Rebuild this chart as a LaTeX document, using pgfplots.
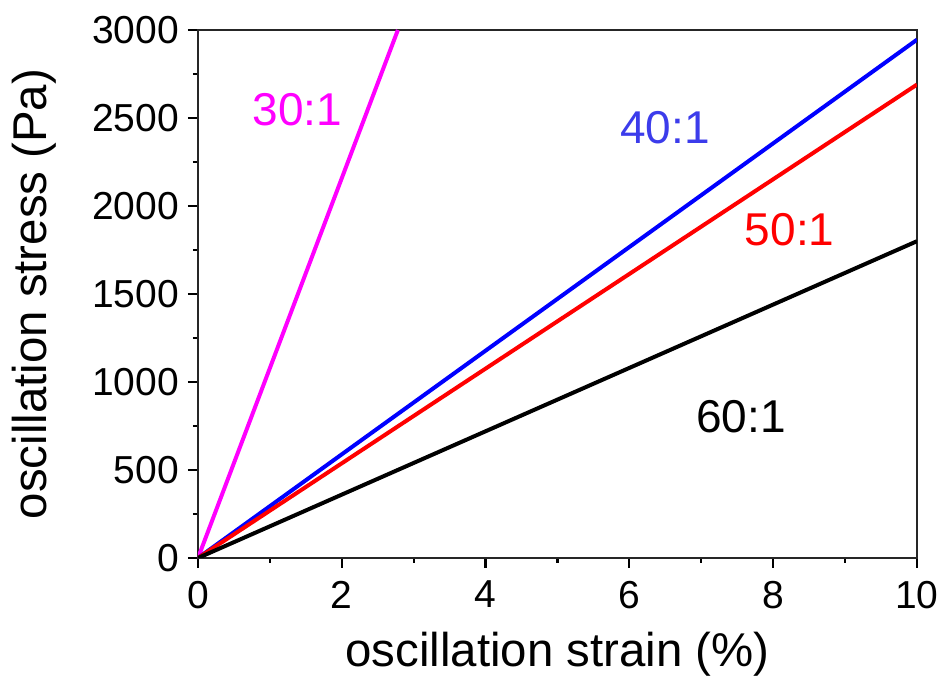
\documentclass[border=0pt]{standalone}
\usepackage{fontspec}
\setmainfont{Liberation Sans}
\usepackage{pgfplots}
\pgfplotsset{compat=1.18}
\definecolor{mag}{rgb}{1,0,1}
\definecolor{lblue}{RGB}{60,60,235}
\begin{document}
\begin{tikzpicture}
\path[use as bounding box] (-99pt,-63pt) rectangle (373pt,279pt);
\begin{axis}[
  at={(0,0)}, anchor=south west,
  scale only axis, width=359.5pt, height=264pt,
  xmin=0, xmax=10, ymin=0, ymax=3000,
  xtick={0,2,4,6,8,10}, ytick={0,500,1000,1500,2000,2500,3000},
  minor x tick num=1, minor y tick num=1,
  xtick pos=bottom, ytick pos=left, tick align=outside,
  major tick length=5pt, minor tick length=2.5pt,
  tick style={line width=1.1pt, black},
  axis line style={line width=1.3pt, black!85},
  /pgf/number format/assume math mode=true,
  /pgf/number format/1000 sep={},
  ticklabel style={font=\fontsize{19.5}{22}\selectfont},
  xticklabel style={yshift=-3pt},
  yticklabel style={xshift=-1pt},
  clip=true,
]
\addplot[mag, line width=2pt] coordinates {(0,0) (2.78,3000)};
\addplot[blue, line width=2pt] coordinates {(0,0) (10,2945)};
\addplot[red, line width=2pt] coordinates {(0,0) (10,2690)};
\addplot[black, line width=2pt] coordinates {(0,0) (10,1800)};
\node[mag, font=\fontsize{23}{26}\selectfont] at (axis cs:1.384,2545) {30:1};
\node[lblue, font=\fontsize{23}{26}\selectfont] at (axis cs:6.495,2446) {40:1};
\node[red, font=\fontsize{23}{26}\selectfont] at (axis cs:8.23,1864) {50:1};
\node[black, font=\fontsize{23}{26}\selectfont] at (axis cs:7.55,803) {60:1};
\end{axis}
\node[font=\fontsize{23.7}{27}\selectfont] at (179.75pt,-48pt) {oscillation strain (\%)};
\node[font=\fontsize{23.7}{27}\selectfont, rotate=90] at (-82pt,132pt) {oscillation stress (Pa)};
\end{tikzpicture}
\end{document}
